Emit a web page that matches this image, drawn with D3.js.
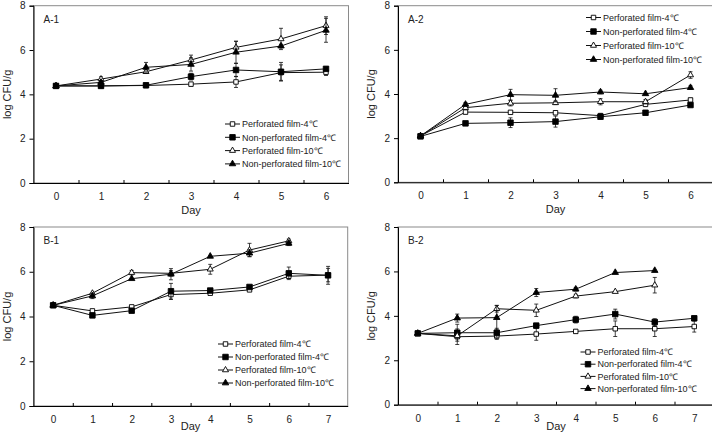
<!DOCTYPE html>
<html>
<head>
<meta charset="utf-8">
<title>log CFU/g panels</title>
<style>
  body { margin: 0; background: #fff; }
  svg { display: block; font-family: Arial, "Liberation Sans", sans-serif; }
</style>
</head>
<body>
<svg width="712" height="433"></svg>
<script src="https://d3js.org/d3.v7.min.js"></script>
<script>

    // days on the x axis
    var daysA = [0, 1, 2, 3, 4, 5, 6];
    var daysB = [0, 1, 2, 3, 4, 5, 6, 7];
    var yTicks = [0, 2, 4, 6, 8];

    var seriesNames = ["Perforated film-4\u2103", "Non-perforated film-4\u2103",
                       "Perforated film-10\u2103", "Non-perforated film-10\u2103"];

    // A-1
    var a1P4 = [4.38, 4.38, 4.40, 4.46, 4.56, 4.98, 5.00];
    var a1P4Err = [0, 0.05, 0.05, 0.08, 0.25, 0.35, 0.15];
    var a1NP4 = [4.38, 4.38, 4.41, 4.80, 5.10, 5.02, 5.15];
    var a1NP4Err = [0, 0.05, 0.05, 0.15, 0.30, 0.42, 0.08];
    var a1P10 = [4.38, 4.69, 5.02, 5.55, 6.12, 6.50, 7.10];
    var a1P10Err = [0, 0.10, 0.08, 0.22, 0.27, 0.48, 0.40];
    var a1NP10 = [4.38, 4.54, 5.22, 5.35, 5.90, 6.18, 6.89];
    var a1NP10Err = [0, 0.08, 0.22, 0.30, 0.50, 0.08, 0.54];

    // A-2
    var a2P4 = [2.10, 3.18, 3.17, 3.15, 3.02, 3.53, 3.73];
    var a2P4Err = [0.04, 0.08, 0.08, 0.08, 0.10, 0.08, 0.08];
    var a2NP4 = [2.08, 2.67, 2.70, 2.75, 2.97, 3.15, 3.50];
    var a2NP4Err = [0.04, 0.08, 0.22, 0.25, 0.10, 0.08, 0.08];
    var a2P10 = [2.10, 3.38, 3.58, 3.60, 3.65, 3.65, 4.86];
    var a2P10Err = [0.04, 0.08, 0.12, 0.08, 0.14, 0.10, 0.15];
    var a2NP10 = [2.10, 3.53, 3.97, 3.94, 4.09, 4.01, 4.29];
    var a2NP10Err = [0.04, 0.08, 0.24, 0.30, 0.08, 0.06, 0.08];

    // B-1
    var b1P4 = [4.50, 4.25, 4.43, 4.98, 5.04, 5.19, 5.80, 5.85];
    var b1P4Err = [0.04, 0.05, 0.05, 0.22, 0.05, 0.05, 0.10, 0.30];
    var b1NP4 = [4.50, 4.05, 4.26, 5.13, 5.16, 5.32, 5.93, 5.84];
    var b1NP4Err = [0.04, 0.05, 0.05, 0.35, 0.05, 0.05, 0.28, 0.40];
    var b1P10 = [4.50, 5.04, 5.96, 5.93, 6.11, 6.97, 7.38];
    var b1P10Err = [0.04, 0.05, 0.10, 0.12, 0.22, 0.30, 0.08];
    var b1NP10 = [4.50, 4.92, 5.69, 5.89, 6.69, 6.83, 7.27];
    var b1NP10Err = [0.04, 0.12, 0.05, 0.25, 0.05, 0.15, 0.10];

    // B-2
    var b2P4 = [3.21, 3.06, 3.09, 3.18, 3.30, 3.42, 3.42, 3.52];
    var b2P4Err = [0.04, 0.35, 0.15, 0.28, 0.08, 0.35, 0.35, 0.25];
    var b2NP4 = [3.21, 3.24, 3.24, 3.56, 3.83, 4.08, 3.72, 3.89];
    var b2NP4Err = [0.04, 0.38, 0.20, 0.10, 0.15, 0.22, 0.15, 0.10];
    var b2P10 = [3.21, 3.10, 4.32, 4.25, 4.89, 5.09, 5.38];
    var b2P10Err = [0.04, 0.10, 0.15, 0.28, 0.08, 0.05, 0.35];
    var b2NP10 = [3.21, 3.90, 3.92, 5.05, 5.20, 5.95, 6.04];
    var b2NP10Err = [0.04, 0.18, 0.55, 0.18, 0.08, 0.05, 0.05];

    var panels = [
        { name: "A-1", days: daysA, vals: [a1P4, a1NP4, a1P10, a1NP10], errs: [a1P4Err, a1NP4Err, a1P10Err, a1NP10Err],
          left: 33.5, right: 348.5, top: 5.7, bottom: 183, ylab: 7, legX: 225, legY: 124, legDy: 13.3 },
        { name: "A-2", days: daysA, vals: [a2P4, a2NP4, a2P10, a2NP10], errs: [a2P4Err, a2NP4Err, a2P10Err, a2NP10Err],
          left: 398, right: 713, top: 5.7, bottom: 182.3, ylab: 371, legX: 586, legY: 17.5, legDy: 14 },
        { name: "B-1", days: daysB, vals: [b1P4, b1NP4, b1P10, b1NP10], errs: [b1P4Err, b1NP4Err, b1P10Err, b1NP10Err],
          left: 33.5, right: 347.7, top: 227, bottom: 406, ylab: 7, legX: 218, legY: 344, legDy: 13 },
        { name: "B-2", days: daysB, vals: [b2P4, b2NP4, b2P10, b2NP10], errs: [b2P4Err, b2NP4Err, b2P10Err, b2NP10Err],
          left: 398, right: 714, top: 227, bottom: 404.7, ylab: 371, legX: 580.5, legY: 352, legDy: 12.2 }
    ];

    // marker per series: open square, filled square, open triangle, filled triangle
    var markers = [
        { type: d3.symbolSquare, size: 20, fill: "#fff" },
        { type: d3.symbolSquare, size: 30, fill: "#000" },
        { type: d3.symbolTriangle, size: 16, fill: "#fff" },
        { type: d3.symbolTriangle, size: 18, fill: "#000" }
    ];

    var svg = d3.select("svg");

    function drawMarker(g, m, x, y) {
        g.append("path")
            .attr("d", d3.symbol().type(m.type).size(m.size)())
            .attr("transform", "translate(" + x + "," + y + ")")
            .attr("fill", m.fill)
            .attr("stroke", "#000")
            .attr("stroke-width", 0.9);
    }

    panels.forEach(function (p) {
        var n = p.days.length;
        var x = d3.scaleLinear().domain([-0.5, n - 0.5]).range([p.left, p.right]);
        var y = d3.scaleLinear().domain([0, 8]).range([p.bottom, p.top]);
        var g = svg.append("g");

        // plot area frame
        g.append("rect")
            .attr("x", p.left).attr("y", p.top)
            .attr("width", p.right - p.left).attr("height", p.bottom - p.top)
            .attr("fill", "none").attr("stroke", "#8a8a8a").attr("stroke-width", 1);

        // y axis
        var ya = g.append("g")
            .attr("transform", "translate(" + p.left + ",0)")
            .call(d3.axisLeft(y).tickValues(yTicks).tickSize(4).tickPadding(4));
        // x axis: labels at days, ticks between categories
        var xa = g.append("g")
            .attr("transform", "translate(0," + p.bottom + ")")
            .call(d3.axisBottom(x).tickValues(p.days).tickSize(0).tickPadding(10)
                .tickFormat(d3.format("d")));
        var xt = g.append("g")
            .attr("transform", "translate(0," + p.bottom + ")")
            .call(d3.axisBottom(x).tickValues(d3.range(n - 1).map(function (d) { return d + 0.5; }))
                .tickSizeInner(-3).tickSizeOuter(0).tickFormat(""));
        xt.select(".domain").remove();
        [ya, xa, xt].forEach(function (a) {
            a.selectAll("text").attr("font-size", 10).attr("font-family", null).attr("fill", "#222");
            a.selectAll("line,path").attr("stroke", "#000");
        });

        g.append("text")
            .attr("x", (p.left + p.right) / 2).attr("y", Math.min(p.bottom + 31, 430))
            .attr("text-anchor", "middle").attr("font-size", 11).attr("fill", "#222")
            .text("Day");
        g.append("text")
            .attr("transform", "translate(" + (p.ylab + 4) + "," + ((p.top + p.bottom) / 2) + ") rotate(-90)")
            .attr("text-anchor", "middle").attr("font-size", 11).attr("fill", "#222")
            .text("log CFU/g");
        g.append("text")
            .attr("x", p.left + 10).attr("y", p.top + 17)
            .attr("font-size", 10).attr("fill", "#222")
            .text(p.name);

        var line = d3.line()
            .x(function (d, i) { return x(p.days[i]); })
            .y(function (d) { return y(d); });

        p.vals.forEach(function (vals, s) {
            var errs = p.errs[s];
            g.append("path")
                .attr("d", line(vals))
                .attr("fill", "none").attr("stroke", "#111").attr("stroke-width", 1);

            vals.forEach(function (v, i) {
                var cx = x(p.days[i]);
                var e = errs[i];
                if (e > 0.06) {
                    g.append("line").attr("x1", cx).attr("x2", cx)
                        .attr("y1", y(v - e)).attr("y2", y(v + e))
                        .attr("stroke", "#111").attr("stroke-width", 0.8);
                    [v - e, v + e].forEach(function (w) {
                        g.append("line").attr("x1", cx - 2).attr("x2", cx + 2)
                            .attr("y1", y(w)).attr("y2", y(w))
                            .attr("stroke", "#111").attr("stroke-width", 0.8);
                    });
                }
                drawMarker(g, markers[s], cx, y(v));
            });
        });

        // legend
        seriesNames.forEach(function (name, s) {
            var ly = p.legY + s * p.legDy;
            g.append("line").attr("x1", p.legX).attr("x2", p.legX + 15)
                .attr("y1", ly).attr("y2", ly)
                .attr("stroke", "#111").attr("stroke-width", 1);
            drawMarker(g, markers[s], p.legX + 7.5, ly);
            g.append("text")
                .attr("x", p.legX + 17).attr("y", ly + 3.2)
                .attr("font-size", 9).attr("fill", "#222")
                .text(name);
        });
    });

</script>
</body>
</html>
